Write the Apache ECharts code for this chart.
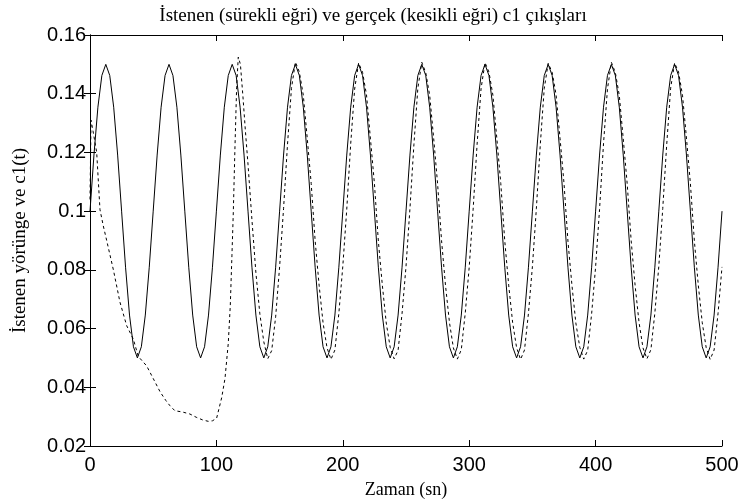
<!DOCTYPE html>
<html>
<head>
<meta charset="utf-8">
<script src="https://cdn.jsdelivr.net/npm/echarts@6/dist/echarts.min.js"></script>
<style>
  html, body { margin: 0; padding: 0; background: #fff; }
  #chart { width: 746px; height: 504px; }
</style>
</head>
<body>
<div id="chart"></div>
<script>
// Desired trajectory (solid), sampled every 3.125 s from 0 to 500 s
const SOLID_STEP = 3.125;
const solidValues = [
  0.1, 0.1191, 0.1354, 0.1462, 0.15, 0.1462, 0.1354, 0.1191, 0.1, 0.0809, 0.0646, 0.0538, 0.05, 0.0538, 0.0646, 0.0809,
  0.1, 0.1191, 0.1354, 0.1462, 0.15, 0.1462, 0.1354, 0.1191, 0.1, 0.0809, 0.0646, 0.0538, 0.05, 0.0538, 0.0646, 0.0809,
  0.1, 0.1191, 0.1354, 0.1462, 0.15, 0.1462, 0.1354, 0.1191, 0.1, 0.0809, 0.0646, 0.0538, 0.05, 0.0538, 0.0646, 0.0809,
  0.1, 0.1191, 0.1354, 0.1462, 0.15, 0.1462, 0.1354, 0.1191, 0.1, 0.0809, 0.0646, 0.0538, 0.05, 0.0538, 0.0646, 0.0809,
  0.1, 0.1191, 0.1354, 0.1462, 0.15, 0.1462, 0.1354, 0.1191, 0.1, 0.0809, 0.0646, 0.0538, 0.05, 0.0538, 0.0646, 0.0809,
  0.1, 0.1191, 0.1354, 0.1462, 0.15, 0.1462, 0.1354, 0.1191, 0.1, 0.0809, 0.0646, 0.0538, 0.05, 0.0538, 0.0646, 0.0809,
  0.1, 0.1191, 0.1354, 0.1462, 0.15, 0.1462, 0.1354, 0.1191, 0.1, 0.0809, 0.0646, 0.0538, 0.05, 0.0538, 0.0646, 0.0809,
  0.1, 0.1191, 0.1354, 0.1462, 0.15, 0.1462, 0.1354, 0.1191, 0.1, 0.0809, 0.0646, 0.0538, 0.05, 0.0538, 0.0646, 0.0809,
  0.1, 0.1191, 0.1354, 0.1462, 0.15, 0.1462, 0.1354, 0.1191, 0.1, 0.0809, 0.0646, 0.0538, 0.05, 0.0538, 0.0646, 0.0809,
  0.1, 0.1191, 0.1354, 0.1462, 0.15, 0.1462, 0.1354, 0.1191, 0.1, 0.0809, 0.0646, 0.0538, 0.05, 0.0538, 0.0646, 0.0809,
  0.1
];

// Actual output c1 (dashed): transient part, irregular times
const dashTransientTime = [
  0, 0.8, 2.5, 5.3, 7.9, 10.5, 13.2, 18.5, 23.7, 29, 34.3, 38.2, 44.8, 50, 55.4, 60, 63.3, 67.2, 73, 79,
  84, 89, 93.6, 97, 100.2, 104.2, 106.8, 109.4, 111, 112.3, 113.4, 114.7, 116, 117.3, 119, 121, 123,
  125, 128.125, 131.25, 134.375, 137.5, 140.625, 143.75, 146.875
];
const dashTransientValue = [
  0.104, 0.131, 0.127, 0.12, 0.1005, 0.095, 0.09, 0.08, 0.069, 0.061, 0.0564, 0.0505, 0.0473, 0.043, 0.0385, 0.0355, 0.0337, 0.032, 0.0316, 0.0309,
  0.0298, 0.0289, 0.0284, 0.0286, 0.0295, 0.0365, 0.043, 0.055, 0.068, 0.085, 0.1, 0.122, 0.142, 0.1525, 0.15, 0.139, 0.127,
  0.116, 0.097, 0.079, 0.065, 0.0555, 0.0497, 0.0525, 0.064
];

// Actual output c1 (dashed): tracking part, every 3.125 s from 150 s to 500 s
const DASH_TRACK_START = 150;
const DASH_TRACK_STEP = 3.125;
const dashTrackValue = [
  0.081, 0.1008, 0.1227, 0.1418, 0.1508, 0.1474, 0.1395, 0.1248, 0.1094, 0.0899, 0.0748, 0.062, 0.0535, 0.0495, 0.0527, 0.0652,
  0.0812, 0.1006, 0.1229, 0.1416, 0.1505, 0.1473, 0.1396, 0.1246, 0.1095, 0.0898, 0.0749, 0.0619, 0.0536, 0.0497, 0.0526, 0.0651,
  0.0811, 0.1009, 0.1226, 0.1419, 0.1507, 0.1472, 0.1394, 0.1249, 0.1093, 0.09, 0.0747, 0.0621, 0.0534, 0.0496, 0.0528, 0.0653,
  0.0809, 0.1007, 0.1228, 0.1417, 0.1506, 0.1474, 0.1395, 0.1247, 0.1094, 0.0899, 0.0748, 0.062, 0.0535, 0.0495, 0.0527, 0.0652,
  0.0811, 0.1008, 0.1227, 0.1418, 0.1504, 0.1473, 0.1396, 0.1248, 0.1095, 0.0898, 0.0749, 0.0619, 0.0536, 0.0496, 0.0526, 0.0651,
  0.081, 0.1006, 0.1229, 0.1416, 0.1507, 0.1472, 0.1394, 0.1246, 0.1093, 0.09, 0.0747, 0.0621, 0.0534, 0.0497, 0.0528, 0.0653,
  0.0812, 0.1009, 0.1226, 0.1419, 0.1505, 0.1474, 0.1395, 0.1249, 0.1094, 0.0899, 0.0748, 0.062, 0.0535, 0.0495, 0.0527, 0.0652,
  0.081
];

const xTicks = { min: 0, max: 500, interval: 100 };
const yTicks = { min: 0.02, max: 0.16, interval: 0.02 };

const titleText = 'İstenen (sürekli eğri) ve gerçek (kesikli eğri) c1 çıkışları';
const xName = 'Zaman (sn)';
const yName = 'İstenen yörünge ve c1(t)';

const solidData = solidValues.map((v, i) => [i * SOLID_STEP, v]);
const dashData = dashTransientTime.map((t, i) => [t, dashTransientValue[i]])
  .concat(dashTrackValue.map((v, i) => [DASH_TRACK_START + i * DASH_TRACK_STEP, v]));

const serif = '"Liberation Serif", "DejaVu Serif", serif';
const sans = '"Liberation Sans", Arial, sans-serif';
const ink = '#000';

const tickStyle = { show: true, inside: true, length: 6, lineStyle: { color: ink, width: 1 } };
const lineStyle = { show: true, lineStyle: { color: ink, width: 1 } };

const chart = echarts.init(document.getElementById('chart'), null, { renderer: 'canvas' });
chart.setOption({
  animation: false,
  backgroundColor: '#fff',
  title: {
    text: titleText,
    left: 'center',
    top: 2,
    textStyle: { fontFamily: serif, fontSize: 19, fontWeight: 'normal', color: ink }
  },
  grid: { left: 90, right: 24, top: 35, bottom: 57 },
  xAxis: [
    {
      type: 'value', position: 'bottom', ...xTicks,
      name: xName, nameLocation: 'middle', nameGap: 35,
      nameTextStyle: { fontFamily: serif, fontSize: 18, color: ink },
      axisLine: lineStyle, axisTick: tickStyle, splitLine: { show: false },
      axisLabel: { fontFamily: sans, fontSize: 20, color: ink, margin: 9 }
    },
    {
      type: 'value', position: 'top', ...xTicks,
      axisLine: lineStyle, axisTick: tickStyle, splitLine: { show: false },
      axisLabel: { show: false }
    }
  ],
  yAxis: [
    {
      type: 'value', position: 'left', ...yTicks,
      name: yName, nameLocation: 'middle', nameGap: 60, nameRotate: 90,
      nameTextStyle: { fontFamily: serif, fontSize: 19, color: ink },
      axisLine: lineStyle, axisTick: tickStyle, splitLine: { show: false },
      axisLabel: { fontFamily: sans, fontSize: 20, color: ink, margin: 4 }
    },
    {
      type: 'value', position: 'right', ...yTicks,
      axisLine: lineStyle, axisTick: tickStyle, splitLine: { show: false },
      axisLabel: { show: false }
    }
  ],
  series: [
    {
      name: 'İstenen',
      type: 'line',
      data: solidData,
      showSymbol: false,
      smooth: false,
      lineStyle: { color: ink, width: 1 },
      z: 3
    },
    {
      name: 'Gerçek',
      type: 'line',
      data: dashData,
      showSymbol: false,
      smooth: false,
      lineStyle: { color: ink, width: 1, type: [3, 3] },
      z: 4
    }
  ]
});
</script>
</body>
</html>
